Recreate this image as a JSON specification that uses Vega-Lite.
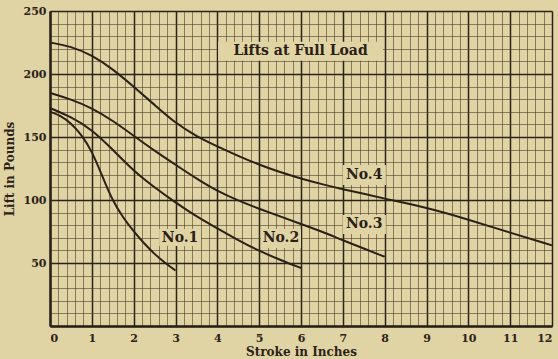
{
  "$schema": "https://vega.github.io/schema/vega-lite/v6.json",
  "width": 502,
  "height": 315,
  "autosize": {"type": "none"},
  "padding": {"left": 50, "top": 11, "right": 6, "bottom": 33},
  "background": "#e0d3a4",
  "config": {"view": {"stroke": null}, "font": "DejaVu Serif"},
  "datasets": {
    "curves": [
      {"s": "No.1", "x": 0, "y": 170}, {"s": "No.1", "x": 0.25, "y": 167}, {"s": "No.1", "x": 0.5, "y": 161}, {"s": "No.1", "x": 0.75, "y": 152}, {"s": "No.1", "x": 1, "y": 139}, {"s": "No.1", "x": 1.25, "y": 119}, {"s": "No.1", "x": 1.5, "y": 99}, {"s": "No.1", "x": 1.75, "y": 86}, {"s": "No.1", "x": 2, "y": 75}, {"s": "No.1", "x": 2.25, "y": 65.5}, {"s": "No.1", "x": 2.5, "y": 57}, {"s": "No.1", "x": 2.75, "y": 50}, {"s": "No.1", "x": 3, "y": 44},
      {"s": "No.2", "x": 0, "y": 173}, {"s": "No.2", "x": 0.5, "y": 166}, {"s": "No.2", "x": 1, "y": 156}, {"s": "No.2", "x": 1.5, "y": 140}, {"s": "No.2", "x": 2, "y": 123}, {"s": "No.2", "x": 2.5, "y": 110}, {"s": "No.2", "x": 3, "y": 98}, {"s": "No.2", "x": 3.5, "y": 87}, {"s": "No.2", "x": 4, "y": 77.5}, {"s": "No.2", "x": 4.5, "y": 68}, {"s": "No.2", "x": 5, "y": 59.5}, {"s": "No.2", "x": 5.5, "y": 52.5}, {"s": "No.2", "x": 6, "y": 46},
      {"s": "No.3", "x": 0, "y": 185}, {"s": "No.3", "x": 0.5, "y": 180}, {"s": "No.3", "x": 1, "y": 173}, {"s": "No.3", "x": 1.5, "y": 163}, {"s": "No.3", "x": 2, "y": 151}, {"s": "No.3", "x": 2.5, "y": 139}, {"s": "No.3", "x": 3, "y": 128}, {"s": "No.3", "x": 3.5, "y": 117}, {"s": "No.3", "x": 4, "y": 107}, {"s": "No.3", "x": 4.5, "y": 99.5}, {"s": "No.3", "x": 5, "y": 93}, {"s": "No.3", "x": 5.5, "y": 87}, {"s": "No.3", "x": 6, "y": 81}, {"s": "No.3", "x": 6.5, "y": 75}, {"s": "No.3", "x": 7, "y": 68}, {"s": "No.3", "x": 7.5, "y": 61.5}, {"s": "No.3", "x": 8, "y": 55},
      {"s": "No.4", "x": 0, "y": 225}, {"s": "No.4", "x": 0.5, "y": 222}, {"s": "No.4", "x": 1, "y": 215}, {"s": "No.4", "x": 1.5, "y": 204}, {"s": "No.4", "x": 2, "y": 190}, {"s": "No.4", "x": 2.5, "y": 175.5}, {"s": "No.4", "x": 3, "y": 161}, {"s": "No.4", "x": 3.5, "y": 150.5}, {"s": "No.4", "x": 4, "y": 142.5}, {"s": "No.4", "x": 4.5, "y": 135}, {"s": "No.4", "x": 5, "y": 128}, {"s": "No.4", "x": 5.5, "y": 122}, {"s": "No.4", "x": 6, "y": 117}, {"s": "No.4", "x": 6.5, "y": 112.5}, {"s": "No.4", "x": 7, "y": 108.5}, {"s": "No.4", "x": 7.5, "y": 105}, {"s": "No.4", "x": 8, "y": 101}, {"s": "No.4", "x": 9, "y": 94}, {"s": "No.4", "x": 10, "y": 84.5}, {"s": "No.4", "x": 11, "y": 74}, {"s": "No.4", "x": 12, "y": 64}
    ],
    "labels": [
      {"label": "No.1", "x": 3.11, "y": 70.2, "x1": 2.61, "x2": 3.61, "y1": 63.5, "y2": 77},
      {"label": "No.2", "x": 5.52, "y": 69.8, "x1": 5.04, "x2": 6.0, "y1": 62, "y2": 77},
      {"label": "No.3", "x": 7.51, "y": 80.6, "x1": 7.0, "x2": 8.03, "y1": 73, "y2": 88},
      {"label": "No.4", "x": 7.51, "y": 119.8, "x1": 7.0, "x2": 8.03, "y1": 112, "y2": 127.8},
      {"label": "Lifts at Full Load", "x": 5.99, "y": 218.3, "x1": 4.02, "x2": 7.96, "y1": 210.5, "y2": 225.5}
    ]
  },
  "resolve": {"axis": {"x": "independent", "y": "independent"}},
  "layer": [
    {
      "data": {"name": "labels"},
      "mark": {"type": "rect", "fill": "#e0d3a4", "stroke": null},
      "encoding": {
        "x": {"field": "x1", "type": "quantitative", "scale": {"domain": [0, 12], "nice": false, "zero": false},
          "axis": {"orient": "bottom", "values": [0.2,0.4,0.6,0.8,1.2,1.4,1.6,1.8,2.2,2.4,2.6,2.8,3.2,3.4,3.6,3.8,4.2,4.4,4.6,4.8,5.2,5.4,5.6,5.8,6.2,6.4,6.6,6.8,7.2,7.4,7.6,7.8,8.2,8.4,8.6,8.8,9.2,9.4,9.6,9.8,10.2,10.4,10.6,10.8,11.2,11.4,11.6,11.8],
            "labels": false, "ticks": false, "domain": false, "title": null, "grid": true, "gridColor": "#4a3c28", "gridWidth": 0.8, "gridOpacity": 0.75}},
        "x2": {"field": "x2"},
        "y": {"field": "y1", "type": "quantitative", "scale": {"domain": [0, 250], "nice": false, "zero": false},
          "axis": {"orient": "left", "values": [10,20,30,40,60,70,80,90,110,120,130,140,160,170,180,190,210,220,230,240],
            "labels": false, "ticks": false, "domain": false, "title": null, "grid": true, "gridColor": "#4a3c28", "gridWidth": 0.8, "gridOpacity": 0.75}},
        "y2": {"field": "y2"}
      }
    },
    {
      "data": {"name": "curves"},
      "mark": {"type": "line", "interpolate": "basis", "stroke": "#2a2016", "strokeWidth": 2},
      "encoding": {
        "x": {"field": "x", "type": "quantitative",
          "axis": {"orient": "bottom", "values": [0,1,2,3,4,5,6,7,8,9,10,11,12], "title": "Stroke in Inches",
            "grid": true, "gridColor": "#2b2218", "gridWidth": 1.5, "ticks": false, "domain": true, "domainColor": "#2b2218", "domainWidth": 2.5,
            "labelFont": "DejaVu Serif", "labelFontSize": 11, "labelFontWeight": "bold", "labelColor": "#2b2218", "labelPadding": 6,
            "titleFont": "DejaVu Serif", "titleFontSize": 12, "titleFontWeight": "bold", "titleColor": "#2b2218", "titlePadding": 3}},
        "y": {"field": "y", "type": "quantitative",
          "axis": {"orient": "left", "values": [0,50,100,150,200,250], "labelExpr": "datum.value == 0 ? '' : datum.label", "title": "Lift in Pounds",
            "grid": true, "gridColor": "#2b2218", "gridWidth": 1.5, "ticks": false, "domain": true, "domainColor": "#2b2218", "domainWidth": 2.5,
            "labelFont": "DejaVu Serif", "labelFontSize": 11, "labelFontWeight": "bold", "labelColor": "#2b2218", "labelPadding": 4,
            "titleFont": "DejaVu Serif", "titleFontSize": 12, "titleFontWeight": "bold", "titleColor": "#2b2218", "titlePadding": 7}},
        "detail": {"field": "s"}
      }
    },
    {
      "data": {"name": "labels"},
      "mark": {"type": "text", "font": "DejaVu Serif", "fontSize": 14, "fontWeight": "bold", "fill": "#2a2016", "align": "center", "baseline": "middle"},
      "encoding": {
        "x": {"field": "x", "type": "quantitative", "axis": null},
        "y": {"field": "y", "type": "quantitative", "axis": null},
        "text": {"field": "label"}
      }
    }
  ]
}
